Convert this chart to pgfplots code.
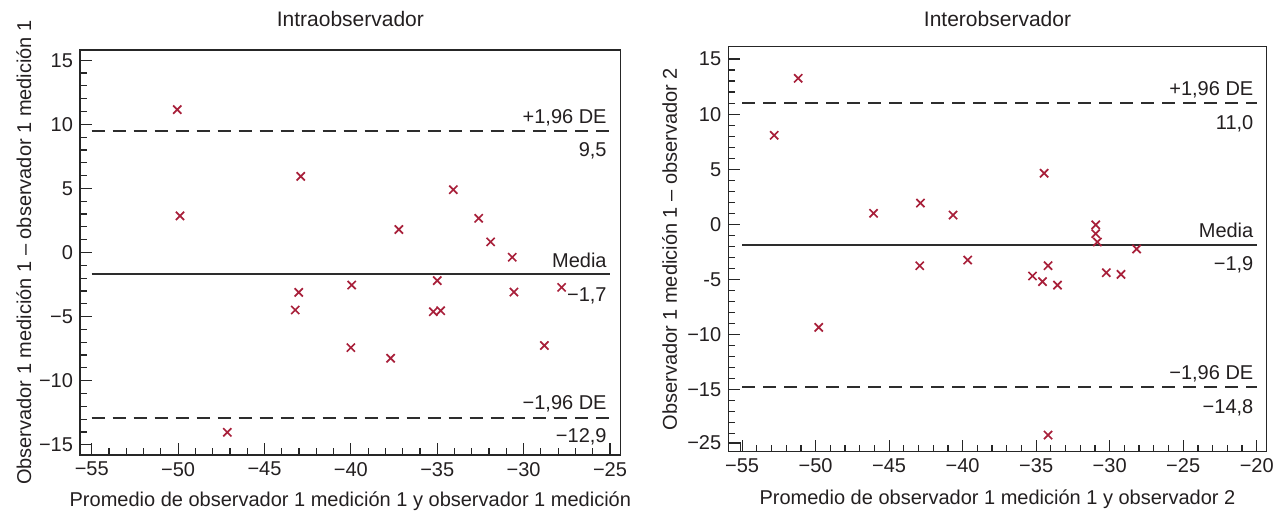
\documentclass[border=0pt]{standalone}
\usepackage{fontspec}
\setmainfont{Liberation Sans}
\usepackage{pgfplots}
\pgfplotsset{compat=1.18}

\definecolor{markred}{RGB}{168,32,58}
\definecolor{txt}{RGB}{35,31,32}
\definecolor{refline}{RGB}{45,45,45}

\pgfplotsset{
  ba/.style={
    scale only axis, height=202.5pt,
    axis line style={line width=0.6pt, black!85},
    tick align=inside, tick pos=left,
    major tick length=5.8pt, minor tick length=3.5pt,
    every tick/.style={line width=0.6pt, black!85},
    tick label style={font=\fontsize{10}{12}\selectfont, text=txt},
    label style={font=\fontsize{10}{12}\selectfont, text=txt},
    every axis title shift=0pt,
    title style={font=\fontsize{10.5}{12}\selectfont, text=txt, anchor=base},
    minor x tick num=4,
    clip=false,
  },
  pts/.style={only marks, mark=x, mark size=2.9pt, color=markred, line width=0.85pt},
  mean/.style={refline, line width=1pt},
  lim/.style={refline, line width=1pt, dash pattern=on 6.5pt off 4pt},
}
\tikzset{
  lbl/.style={font=\fontsize{10}{12}\selectfont, text=txt, inner sep=0pt, anchor=base east, xshift=-1.5pt},
}

\begin{document}
\begin{tikzpicture}
\useasboundingbox (0,0) rectangle (638pt,256.5pt);

% ---- Intraobservador ----
\begin{axis}[ba,
  at={(40pt,29pt)}, anchor=south west, width=270.35pt,
  xmin=-55.68, xmax=-24.38, ymin=-15.8, ymax=15.8,
  xtick={-55,-50,...,-25},
  xticklabels={−55,−50,−45,−40,−35,−30,−25},
  ytick={-15,-10,...,15},
  yticklabels={−15,−10,−5,0,5,10,15},
  minor y tick num=4,
  title={Intraobservador},
  title style={at={(axis description cs:0.5,1.0575)}},
  xlabel={Promedio de observador 1 medición 1 y observador 1 medición},
  xlabel style={at={(axis description cs:0.5,-0.1284)}, anchor=base},
  ylabel={Observador 1 medición 1 – observador 1 medición 1},
  ylabel style={at={(axis description cs:-0.1036,0.5)}, anchor=center},
]
\addplot[lim] coordinates {(-55,9.5) (-25,9.5)};
\addplot[mean] coordinates {(-55,-1.7) (-25,-1.7)};
\addplot[lim] coordinates {(-55,-12.9) (-25,-12.9)};
\addplot[pts] coordinates {
  (-50.05,11.15) (-49.89,2.86) (-42.90,5.94) (-34.07,4.90) (-37.22,1.79)
  (-32.60,2.67) (-31.91,0.83) (-30.66,-0.37) (-43.02,-3.11) (-43.22,-4.49)
  (-47.15,-14.03) (-39.95,-2.54) (-35.00,-2.20) (-30.56,-3.09) (-27.80,-2.72)
  (-35.23,-4.62) (-34.80,-4.54) (-40.00,-7.42) (-37.70,-8.25) (-28.80,-7.26)
};
\node[lbl, yshift=3.7pt] at (axis cs:-25,9.5) {+1,96 DE};
\node[lbl, yshift=-13pt] at (axis cs:-25,9.5) {9,5};
\node[lbl, yshift=3.2pt] at (axis cs:-25,-1.7) {Media};
\node[lbl, yshift=-13.5pt] at (axis cs:-25,-1.7) {−1,7};
\node[lbl, yshift=4pt] at (axis cs:-25,-12.9) {−1,96 DE};
\node[lbl, yshift=-12.5pt] at (axis cs:-25,-12.9) {−12,9};
\end{axis}

% ---- Interobservador ----
% y axis is broken below -15: the tick at -19.85 stands for -25
\begin{axis}[ba,
  at={(364.15pt,30.65pt)}, anchor=south west, width=269.2pt,
  xmin=-55.94, xmax=-19.32, ymin=-20.63, ymax=16.12,
  xtick={-55,-50,...,-20},
  xticklabels={−55,−50,−45,−40,−35,−30,−25,−20},
  ytick={-19.85,-15,-10,-5,0,5,10,15},
  yticklabels={−25,−15,−10,-5,0,5,10,15},
  minor ytick={-19,-18,...,14},
  title={Interobservador},
  title style={at={(axis description cs:0.5,1.0494)}},
  xlabel={Promedio de observador 1 medición 1 y observador 2},
  xlabel style={at={(axis description cs:0.5,-0.1316)}, anchor=base},
  ylabel={Observador 1 medición 1 – observador 2},
  ylabel style={at={(axis description cs:-0.1092,0.5)}, anchor=center},
]
\addplot[lim] coordinates {(-55,11.0) (-20,11.0)};
\addplot[mean] coordinates {(-55,-1.9) (-20,-1.9)};
\addplot[lim] coordinates {(-55,-14.75) (-20,-14.75)};
\addplot[pts] coordinates {
  (-51.19,13.25) (-52.82,8.08) (-46.06,1.00) (-42.87,1.93) (-40.65,0.84)
  (-42.92,-3.76) (-34.46,4.63) (-30.95,-0.05) (-30.95,-0.85) (-30.84,-1.60)
  (-28.17,-2.24) (-39.66,-3.24) (-34.19,-3.75) (-35.25,-4.69) (-34.57,-5.20)
  (-33.55,-5.51) (-30.23,-4.39) (-29.23,-4.54) (-49.79,-9.35) (-34.19,-19.12)
};
\draw[line width=0.6pt, black!85] (axis cs:-55.94,-19.85) -| (axis cs:-55.12,-20.63);
\node[lbl, yshift=3.7pt] at (axis cs:-20,11.0) {+1,96 DE};
\node[lbl, yshift=-13pt] at (axis cs:-20,11.0) {11,0};
\node[lbl, yshift=4pt] at (axis cs:-20,-1.9) {Media};
\node[lbl, yshift=-12.5pt] at (axis cs:-20,-1.9) {−1,9};
\node[lbl, yshift=3.8pt] at (axis cs:-20,-14.75) {−1,96 DE};
\node[lbl, yshift=-13.5pt] at (axis cs:-20,-14.75) {−14,8};
\end{axis}
\end{tikzpicture}
\end{document}
